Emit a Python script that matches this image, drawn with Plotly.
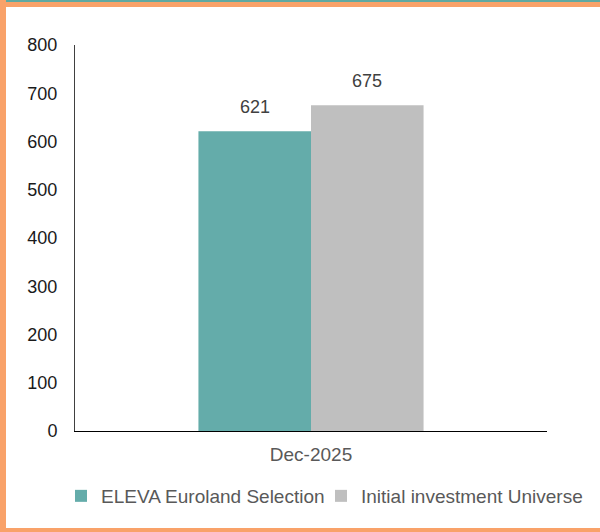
import plotly.graph_objects as go

# data
categories = ["Dec-2025"]
series_names = ["ELEVA Euroland Selection", "Initial investment Universe"]
series_values = [[621], [675]]
y_ticks = [0, 100, 200, 300, 400, 500, 600, 700, 800]

bar_colors = ["#64ACAA", "#BFBFBF"]
text_grey = "#404040"
font_family = "Liberation Sans, Arial, sans-serif"

# plot area in pixels (used to place frame decorations in paper coords)
W, H = 600, 532
ML, MR, MT, MB = 75, 53, 45, 101
pw, ph = W - ML - MR, H - MT - MB


def px_x(x):
    return (x - ML) / pw


def px_y(y):
    return (H - MB - y) / ph


# one legend per series so they sit side by side like the original
legend_ids = ["legend", "legend2"]
legend_left = [61, 321]

fig = go.Figure()
for name, vals, col, lg in zip(series_names, series_values, bar_colors, legend_ids):
    fig.add_trace(go.Bar(
        x=categories,
        y=vals,
        name=name,
        legend=lg,
        marker=dict(color=col, line=dict(width=0)),
    ))

# value labels above bars
shifts = [-56, 56]
for vals, xs in zip(series_values, shifts):
    for cat, v in zip(categories, vals):
        fig.add_annotation(
            x=cat, y=v, text=str(v), showarrow=False,
            xshift=xs, yshift=12, yanchor="bottom",
            font=dict(size=18, color=text_grey, family=font_family),
        )

leg_style = dict(
    orientation="h", xanchor="left", yanchor="middle",
    y=px_y(496), font=dict(size=19, color="#595959"),
    itemwidth=30, bgcolor="rgba(0,0,0,0)",
)
fig.update_layout(
    width=W, height=H,
    margin=dict(l=ML, r=MR, t=MT, b=MB),
    paper_bgcolor="white", plot_bgcolor="white",
    barmode="group", bargap=0.523, bargroupgap=0,
    font=dict(family=font_family, size=18, color=text_grey),
    showlegend=True,
    legend=dict(x=px_x(legend_left[0]), **leg_style),
    legend2=dict(x=px_x(legend_left[1]), **leg_style),
)

fig.update_yaxes(
    range=[0, 800], tickvals=y_ticks, showgrid=False, zeroline=False,
    showline=True, linecolor="#404040", linewidth=1,
    tickfont=dict(size=18, color="#1a1a1a"), ticklabelstandoff=13,
)
fig.update_xaxes(
    showgrid=False, showline=True, linecolor="#000000", linewidth=1,
    tickfont=dict(size=19, color="#595959"), ticklabelstandoff=6,
)

# frame: teal strip on top, orange border on left, top and bottom
orange = "#F9A269"
teal = "#5FA9A2"
frame = [
    (0, 0, 610, 2, teal),
    (0, 2, 610, 7, orange),
    (0, 0, 6, 532, orange),
    (0, 528, 610, 534, orange),
]
for x0, y0, x1, y1, c in frame:
    fig.add_shape(
        type="rect", xref="paper", yref="paper",
        x0=px_x(x0), x1=px_x(x1), y0=px_y(y1), y1=px_y(y0),
        fillcolor=c, line=dict(width=0), layer="above",
    )

fig.write_html(
    "out.html",
    config={"displayModeBar": False},
    post_script="document.body.style.margin='0';document.body.style.overflow='hidden';",
)
